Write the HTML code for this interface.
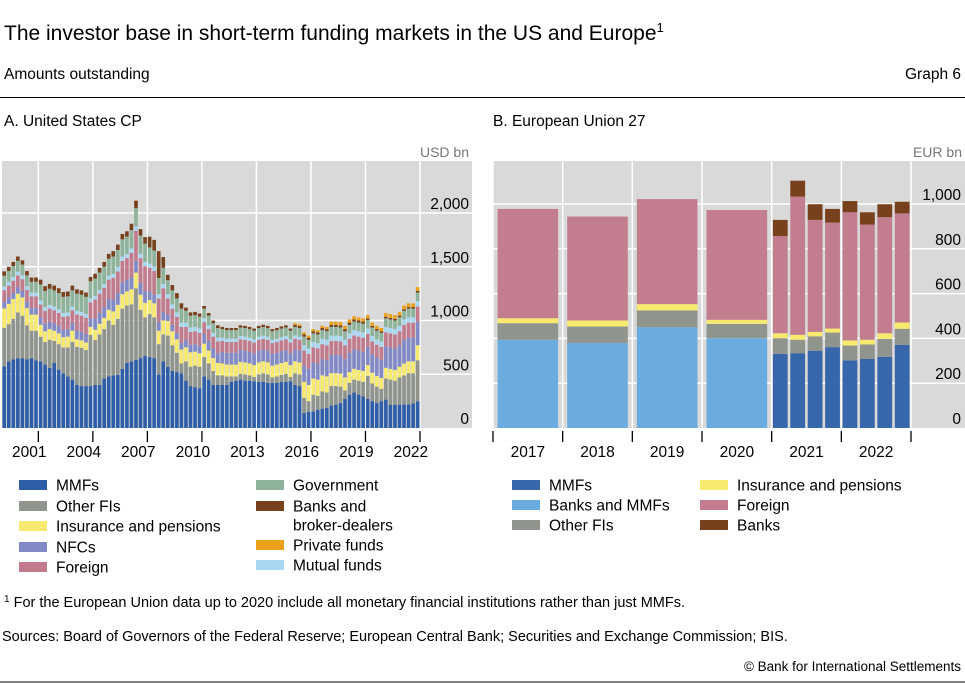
<!DOCTYPE html>
<html><head><meta charset="utf-8"><style>
html,body{margin:0;padding:0;background:#fff;}
svg{display:block;font-family:"Liberation Sans",sans-serif;}
</style></head><body>
<svg id="svg" width="965" height="684" viewBox="0 0 965 684" xmlns="http://www.w3.org/2000/svg">
<text x="4" y="40" font-size="21" fill="#000">The investor base in short-term funding markets in the US and Europe<tspan font-size="13" dy="-8">1</tspan></text>
<text x="4" y="79" font-size="15.5">Amounts outstanding</text>
<text x="961" y="79" font-size="15.5" text-anchor="end">Graph 6</text>
<line x1="0" y1="97.5" x2="965" y2="97.5" stroke="#000" stroke-width="1"/>
<text x="4" y="126" font-size="15.5">A. United States CP</text>
<text x="493" y="126" font-size="15.5">B. European Union 27</text>
<g id="panelA"></g>
<g id="panelB"></g>
<g id="legendA"></g>
<g id="legendB"></g>
<text x="4" y="607" font-size="14.5"><tspan font-size="10" dy="-5">1</tspan><tspan dy="5">  For the European Union data up to 2020 include all monetary financial institutions rather than just MMFs.</tspan></text>
<text x="2" y="641" font-size="14.5">Sources: Board of Governors of the Federal Reserve; European Central Bank; Securities and Exchange Commission; BIS.</text>
<line x1="0" y1="682" x2="965" y2="682" stroke="#000" stroke-width="1"/>
<text x="961" y="671" font-size="13.5" text-anchor="end">© Bank for International Settlements</text>
</svg>
<script>
// ---------- Panel A data (USD bn, quarterly 2000Q1-2022Q4) ----------
const aYears = ["2001","2004","2007","2010","2013","2016","2019","2022"];
const aTicks = [0,500,1000,1500,2000];
const aTickLabels = ["0","500","1,000","1,500","2,000"];
const aMMF = [573,620,640,650,650,640,650,630, 620,590,560,605,543,510,480,450, 400,390,390,390,400,400,460,480, 490,496,550,605,620,635,650,670, 660,650,500,620,570,530,520,510, 440,390,380,370,480,450,400,400, 400,400,430,440,450,440,440,435, 430,430,420,420,420,430,430,435, 400,390,140,150,155,170,180,186, 210,217,232,270,310,330,310,295, 270,250,232,250,264,217,217,217, 220,220,230,248];
const aOtherFI = [359,345,375,425,395,315,255,275, 230,210,260,205,237,240,270,350, 355,355,335,475,420,470,460,520, 470,520,560,535,530,665,450,360, 400,380,280,250,290,240,180,90, 180,180,200,200,180,150,130,90, 90,80,50,40,55,60,50,40, 70,80,80,50,60,65,75,40, 110,110,140,100,155,130,160,144, 180,173,153,80,110,120,130,135, 215,165,153,115,196,233,223,253, 270,290,280,382];
const aInsurance = [180,190,185,175,170,160,150,150, 110,100,100,95,100,95,100,105, 70,70,70,75,95,100,105,100, 125,130,135,130,140,145,140,135, 130,130,125,130,135,130,125,130, 130,135,130,125,125,120,120,115, 110,110,110,110,110,110,110,110, 110,110,110,110,110,110,110,110, 110,110,150,150,150,150,150,150, 120,120,120,120,100,100,100,100, 100,100,100,100,100,100,100,100, 110,110,110,140];
const aNFC = [60,60,60,60,60,60,60,60, 70,70,70,70,70,70,70,70, 80,80,80,80,100,100,100,100, 110,110,110,110,110,110,110,110, 80,80,80,80,60,60,60,60, 70,70,70,70,90,90,90,90, 110,110,110,110,110,110,110,110, 110,110,110,110,110,110,110,110, 110,110,150,150,150,150,150,150, 170,170,170,170,180,180,180,180, 170,170,170,170,200,200,200,200, 220,220,220,220];
const aForeign = [110,110,110,110,110,110,110,110, 120,120,120,120,120,120,120,120, 150,150,150,150,180,180,180,180, 200,200,200,200,230,280,230,230, 220,220,220,220,150,150,150,150, 120,120,120,120,110,110,110,110, 100,100,100,100,100,100,100,100, 100,100,100,100,100,100,100,100, 100,100,140,140,140,140,140,140, 130,130,130,130,130,130,130,130, 120,120,120,120,130,130,130,130, 140,140,140,140];
const aMutual = [35,35,35,35,35,35,35,35, 35,35,35,35,35,35,35,35, 35,35,35,35,35,35,35,35, 40,40,40,40,40,40,40,40, 40,40,40,40,40,40,40,40, 40,40,40,40,35,35,35,35, 30,30,30,30,30,30,30,30, 30,30,30,30,30,30,30,30, 30,30,50,50,50,50,50,50, 50,50,50,50,50,50,50,50, 50,50,50,50,50,50,50,50, 50,50,50,50];
const aGov = [100,100,100,100,100,100,100,100, 150,150,150,150,150,150,150,150, 160,160,160,160,160,160,160,160, 160,160,160,160,170,170,170,170, 150,150,150,150,130,130,130,130, 110,110,110,110,90,90,90,90, 80,80,80,80,80,80,80,80, 80,80,80,80,80,80,80,80, 80,80,80,80,80,80,80,80, 80,80,80,80,80,80,80,80, 80,80,80,80,80,80,80,80, 80,80,80,80];
const aBanks = [40,40,40,40,40,40,40,40, 45,45,45,45,45,45,45,45, 40,40,40,40,45,45,45,45, 50,50,50,50,60,70,60,60, 100,100,250,100,50,50,50,50, 30,30,30,30,25,25,25,25, 20,20,20,20,20,20,20,20, 20,20,20,20,20,20,20,20, 20,20,20,20,20,20,20,20, 20,20,20,20,20,20,20,20, 15,15,15,15,15,15,15,15, 15,15,15,15];
const aPrivate = [0,0,0,0,0,0,0,0, 0,0,0,0,0,0,0,0, 0,0,0,0,0,0,0,0, 0,0,0,0,0,0,0,0, 0,0,0,0,0,0,0,0, 0,0,0,0,0,0,0,0, 0,0,0,0,0,0,0,0, 0,0,0,0,0,0,0,0, 15,15,20,20,20,20,20,20, 30,30,30,30,30,30,30,30, 30,30,30,30,35,35,35,35, 35,35,35,35];

// ---------- Panel B data (EUR bn) ----------
const bCats = ["2017","2018","2019","2020","2021Q1","2021Q2","2021Q3","2021Q4","2022Q1","2022Q2","2022Q3","2022Q4"];
const bYearLabels = ["2017","2018","2019","2020","2021","2022"];
const bTicks = [0,200,400,600,800,1000];
const bTickLabels = ["0","200","400","600","800","1,000"];
const bBanksMMF = [394,379,450,401,0,0,0,0,0,0,0,0];
const bMMF = [0,0,0,0,331,334,345,361,302,308,318,371];
const bOtherFI = [74,74,75,64,70,60,64,65,66,65,80,72];
const bInsurance = [22,27,28,18,22,22,20,18,23,21,25,28];
const bForeign = [488,464,469,490,434,617,500,473,572,514,518,487];
const bBanks = [0,0,0,0,72,71,70,61,50,55,58,52];

const NS = "http://www.w3.org/2000/svg";
function mk(tag, attrs, parent){ const e=document.createElementNS(NS,tag); for(const k in attrs) e.setAttribute(k,attrs[k]); parent.appendChild(e); return e; }

// ----- Panel A -----
(function(){
  const g = document.getElementById('panelA');
  const x0=2, x1=420, y0=428, yTop=161, gx1=472;
  const n = aMMF.length;
  const qw = (x1-x0)/n;
  const yScale = v => y0 - v*(215/2000);
  const bg = mk('rect',{x:x0,y:yTop,width:gx1-x0,height:y0-yTop,fill:'#d9d9d9'},g);
  
  
  aTicks.forEach((t,i)=>{
    const y=yScale(t);
    if(t>0){ const l=mk('line',{x1:x0,y1:y,x2:gx1,y2:y,stroke:'#fff','stroke-width':1.5},g);
      
       }
    const tx=mk('text',{x:469,y:y-4,'font-size':15.5,'text-anchor':'end'},g);
    tx.textContent=aTickLabels[i];
    
    
  });
  const u=mk('text',{x:469,y:157,'font-size':14,'text-anchor':'end',fill:'#777'},g);
  u.textContent='USD bn';
  
  
  aYears.forEach((yr,i)=>{
    const yearIdx = parseInt(yr)-2000;
    const xt = x0 + (yearIdx+1)*4*qw;
    const l=mk('line',{x1:xt,y1:yTop,x2:xt,y2:y0,stroke:'#fff','stroke-width':1.5},g);
    
    
    const tk=mk('line',{x1:xt,y1:y0+3,x2:xt,y2:y0+14,stroke:'#000','stroke-width':1.3},g);
    
    
    const tx=mk('text',{x:xt-2*qw,y:457,'font-size':15.5,'text-anchor':'middle'},g);
    tx.textContent=yr;
    
    
  });
  const series=[[aMMF,'#2f5ea9','mmfs'],[aOtherFI,'#8f948d','other-fis'],[aInsurance,'#f8ea6e','insurance-pensions'],[aNFC,'#8189c6','nfcs'],[aForeign,'#c27b8d','foreign'],[aMutual,'#a7d7f2','mutual-funds'],[aGov,'#8db39a','government'],[aBanks,'#76411c','banks-broker-dealers'],[aPrivate,'#e9a11c','private-funds']];
  for(let i=0;i<n;i++){
    let cum=0;
    series.forEach(s=>{
      const v=s[0][i]; if(!v) return;
      const yA=yScale(cum), yB=yScale(cum+v);
      const r=mk('rect',{x:x0+i*qw+0.4,y:yB,width:qw-0.9,height:yA-yB,fill:s[1]},g);
      
      
      cum+=v;
    });
  }
})();

// ----- Panel B -----
(function(){
  const g=document.getElementById('panelB');
  const x0=493, x1=911, y0=428, yTop=161, gx1=965;
  const step=(x1-x0)/6;
  const yScale=v=>y0 - v*(224/1000);
  const bg=mk('rect',{x:x0,y:yTop,width:gx1-x0,height:y0-yTop,fill:'#d9d9d9'},g);
  
  
  bTicks.forEach((t,i)=>{
    const y=yScale(t);
    if(t>0){ const l=mk('line',{x1:x0,y1:y,x2:gx1,y2:y,stroke:'#fff','stroke-width':1.5},g);
      
       }
    const tx=mk('text',{x:961,y:y-4,'font-size':15.5,'text-anchor':'end'},g);
    tx.textContent=bTickLabels[i];
    
    
  });
  const u=mk('text',{x:962,y:157,'font-size':14,'text-anchor':'end',fill:'#777'},g);
  u.textContent='EUR bn';
  
  
  for(let k=0;k<=6;k++){
    const xt=x0+k*step;
    const l=mk('line',{x1:xt,y1:yTop,x2:xt,y2:y0,stroke:'#fff','stroke-width':1.5},g);
    
    
    const tk=mk('line',{x1:xt,y1:y0+3,x2:xt,y2:y0+14,stroke:'#000','stroke-width':1.3},g);
    
    
  }
  bYearLabels.forEach((lab,k)=>{
    const tx=mk('text',{x:x0+(k+0.5)*step,y:457,'font-size':15.5,'text-anchor':'middle'},g);
    tx.textContent=lab;
    
    
  });
  const series=[[bBanksMMF,'#6aace0','banks-and-mmfs'],[bMMF,'#3866ab','mmfs'],[bOtherFI,'#8f948d','other-fis'],[bInsurance,'#f8ea6e','insurance-pensions'],[bForeign,'#c27e8f','foreign'],[bBanks,'#76411c','banks']];
  bCats.forEach((c,i)=>{
    let bx,bw;
    if(i<4){ bx=x0+i*step+4.5; bw=step-9; }
    else { const q=i-4; const qs=step/4; bx=x0+4*step+q*qs+1.2; bw=qs-2.6; }
    let cum=0;
    series.forEach(s=>{
      const v=s[0][i]; if(!v) return;
      const yA=yScale(cum), yB=yScale(cum+v);
      const r=mk('rect',{x:bx,y:yB,width:bw,height:yA-yB,fill:s[1]},g);
      
      
      cum+=v;
    });
  });
})();

// ----- Legends -----
function legend(gid, items){
  const g=document.getElementById(gid);
  items.forEach(it=>{
    const r=mk('rect',{x:it[0],y:it[1]-5,width:28,height:10,fill:it[3]},g);
    
    
    const t=mk('text',{x:it[0]+37,y:it[1]+5.5,'font-size':15.5},g);
    
    
    const lines=it[2].split('|');
    lines.forEach((ln,j)=>{ const ts=mk('tspan',{x:it[0]+37,dy:j?19:0},t); ts.textContent=ln; });
  });
}
legend('legendA',[[19,485,'MMFs','#2f5ea9'],[19,506,'Other FIs','#8f948d'],[19,526,'Insurance and pensions','#f8ea6e'],[19,547,'NFCs','#8189c6'],[19,567,'Foreign','#c27b8d'],
 [256,485,'Government','#8db39a'],[256,506,'Banks and|broker-dealers','#76411c'],[256,545,'Private funds','#e9a11c'],[256,565,'Mutual funds','#a7d7f2']]);
legend('legendB',[[512,485,'MMFs','#3866ab'],[512,505,'Banks and MMFs','#6aace0'],[512,525,'Other FIs','#8f948d'],
 [700,485,'Insurance and pensions','#f8ea6e'],[700,505,'Foreign','#c27e8f'],[700,525,'Banks','#76411c']]);
</script>
</body></html>
